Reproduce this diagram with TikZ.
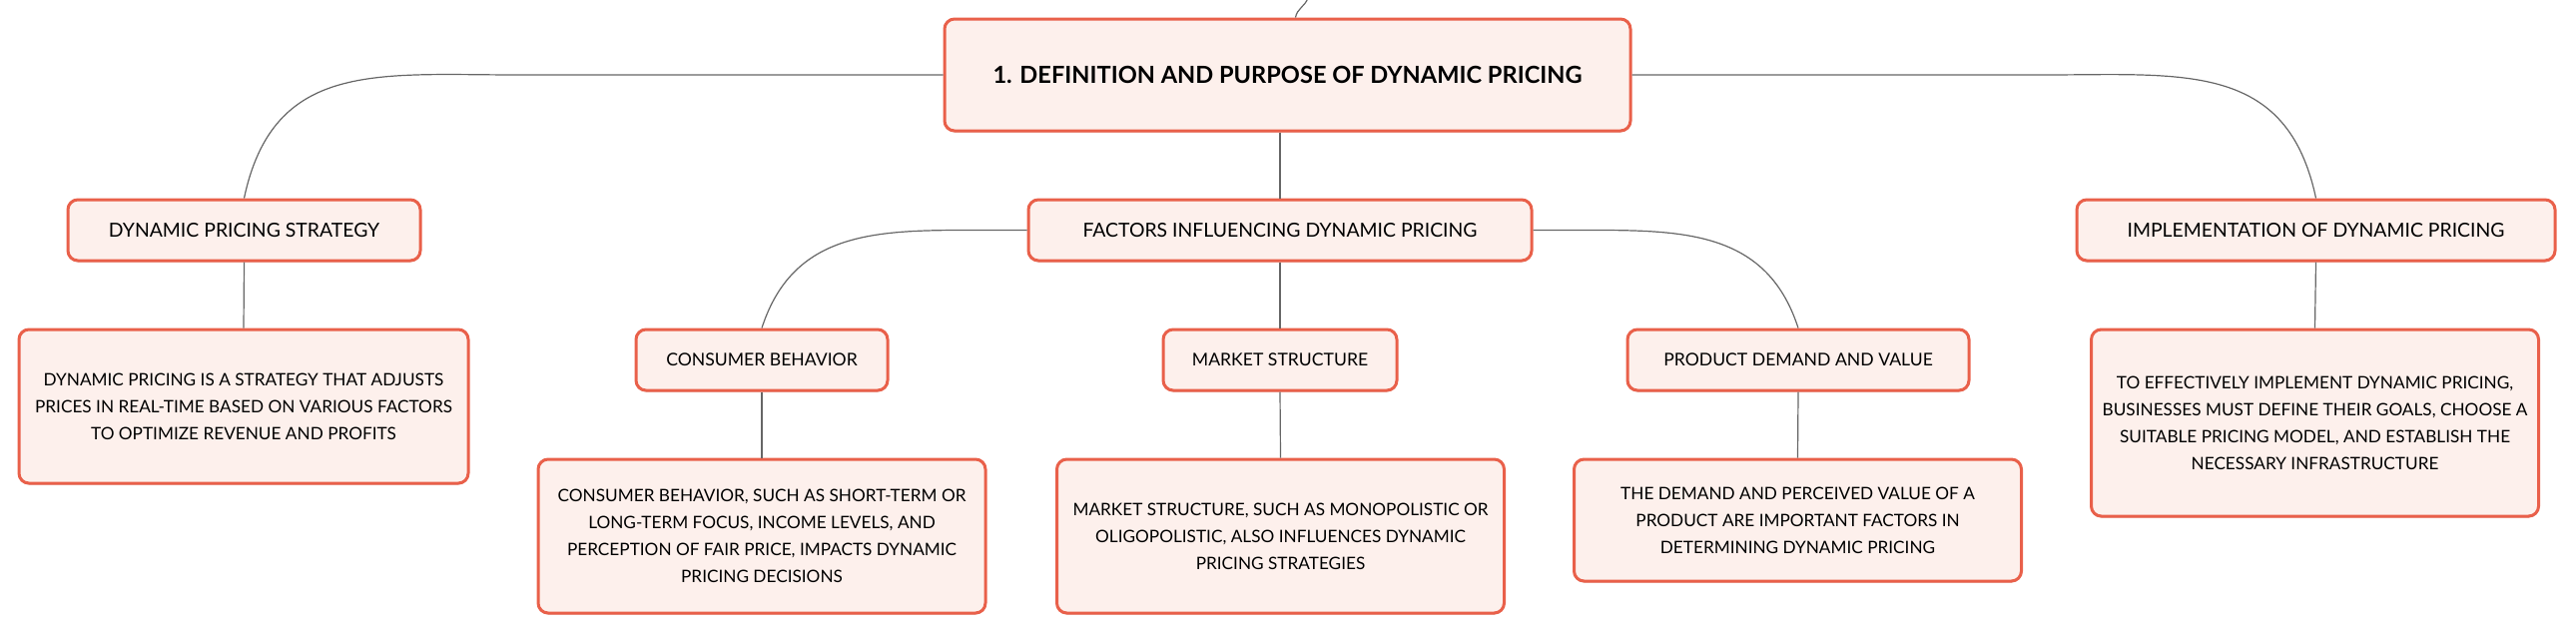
\documentclass[tikz,border=0pt]{standalone}
\usepackage{fontspec}
\setmainfont{Lato}
\usetikzlibrary{shadows}
\definecolor{boxline}{HTML}{E9604A}
\definecolor{boxfill}{HTML}{FDF0EC}
\definecolor{linkline}{HTML}{666666}

\begin{document}
\begin{tikzpicture}[x=0.5pt,y=-0.5pt,
        every node/.append style={draw=boxline,fill=boxfill,line width=1.5pt,rounded corners=5pt,align=center,inner sep=0pt,
            drop shadow={shadow xshift=0pt,shadow yshift=-0.8pt,fill=boxline!70!black,opacity=0.35}},
        rootbox/.style={minimum width=343.5pt,minimum height=56pt,font=\fontsize{11.8}{14}\selectfont\bfseries},
        topic/.style={minimum height=30.5pt,font=\fontsize{9.7}{12}\selectfont},
        subtopic/.style={minimum height=30.5pt,font=\fontsize{8.8}{11}\selectfont},
        note/.style={minimum width=224pt,font=\fontsize{8.6}{13.5}\selectfont},
        link/.style={draw=linkline,line width=0.6pt}
    ]
        \useasboundingbox (0,0) rectangle (2580,634);
        \coordinate (up) at (1310,-2);
        \node[rootbox] (root) at (1289.5,75) {1. DEFINITION AND PURPOSE OF DYNAMIC PRICING};
        \node[topic,minimum width=176.5pt] (dps) at (244.5,230.5) {DYNAMIC PRICING STRATEGY};
        \node[topic,minimum width=252pt] (factors) at (1282,230.5) {FACTORS INFLUENCING DYNAMIC PRICING};
        \node[topic,minimum width=239.5pt] (impl) at (2319.5,230.5) {IMPLEMENTATION OF DYNAMIC PRICING};
        \node[subtopic,minimum width=126pt] (consumer) at (763,360.5) {CONSUMER BEHAVIOR};
        \node[subtopic,minimum width=117pt] (market) at (1282,360.5) {MARKET STRUCTURE};
        \node[subtopic,minimum width=171pt] (demand) at (1801,360.5) {PRODUCT DEMAND AND VALUE};
        \node[note,minimum width=225pt,minimum height=77pt] (dpsnote) at (244,407) {DYNAMIC PRICING IS A STRATEGY THAT ADJUSTS\\PRICES IN REAL-TIME BASED ON VARIOUS FACTORS\\TO OPTIMIZE REVENUE AND PROFITS};
        \node[note,minimum height=77pt] (consumernote) at (763,537) {CONSUMER BEHAVIOR, SUCH AS SHORT-TERM OR\\LONG-TERM FOCUS, INCOME LEVELS, AND\\PERCEPTION OF FAIR PRICE, IMPACTS DYNAMIC\\PRICING DECISIONS};
        \node[note,minimum height=77pt] (marketnote) at (1282.5,537) {MARKET STRUCTURE, SUCH AS MONOPOLISTIC OR\\OLIGOPOLISTIC, ALSO INFLUENCES DYNAMIC\\PRICING STRATEGIES};
        \node[note,minimum height=61pt] (demandnote) at (1800.5,521) {THE DEMAND AND PERCEIVED VALUE OF A\\PRODUCT ARE IMPORTANT FACTORS IN\\DETERMINING DYNAMIC PRICING};
        \node[note,minimum height=93.5pt] (implnote) at (2318.5,423.5) {TO EFFECTIVELY IMPLEMENT DYNAMIC PRICING,\\BUSINESSES MUST DEFINE THEIR GOALS, CHOOSE A\\SUITABLE PRICING MODEL, AND ESTABLISH THE\\NECESSARY INFRASTRUCTURE};
        \draw[link] ([xshift=4pt]root.north) to[out=80,in=250] (up);
        \draw[link] (root.west) -- ++(-425,0) to[out=180,in=78,looseness=1.2] (dps.north);
        \draw[link] (root.east) -- ++(412,0) to[out=0,in=102,looseness=1.2] (impl.north);
        \draw[link] (factors.north |- root.south) -- (factors.north);
        \draw[link] (factors.west) -- ++(-36,0) to[out=180,in=72,looseness=1.1] (consumer.north);
        \draw[link] (factors.east) -- ++(36,0) to[out=0,in=108,looseness=1.1] (demand.north);
        \draw[link] (factors.south) -- (market.north);
        \draw[link] (dps.south) -- (dpsnote.north);
        \draw[link] (impl.south) -- (implnote.north);
        \draw[link] (consumer.south) -- (consumernote.north);
        \draw[link] (market.south) -- (marketnote.north);
        \draw[link] (demand.south) -- (demandnote.north);
    \end{tikzpicture}
\end{document}
